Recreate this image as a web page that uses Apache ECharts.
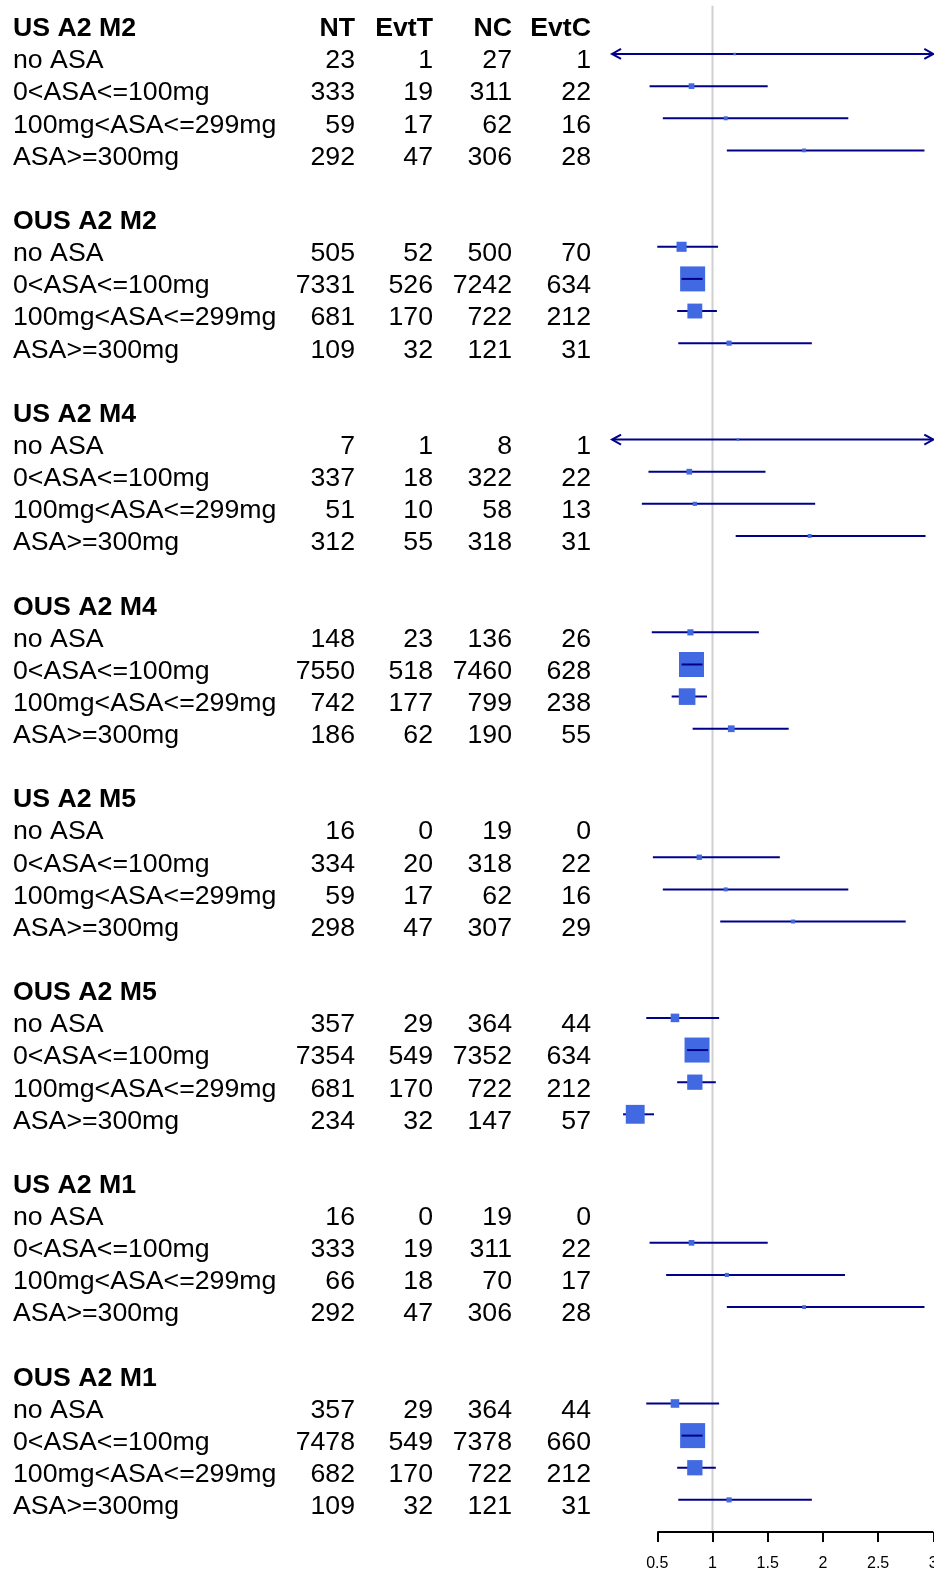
<!DOCTYPE html>
<html>
<head>
<meta charset="utf-8">
<script src="https://cdn.jsdelivr.net/npm/echarts@6/dist/echarts.min.js"></script>
<style>
html,body{margin:0;padding:0;background:#fff;}
#chart{width:934px;height:1575px;}
</style>
</head>
<body>
<div id="chart"></div>
<script>
// ---------------- data ----------------
const groups = ['US A2 M2','OUS A2 M2','US A2 M4','OUS A2 M4','US A2 M5','OUS A2 M5','US A2 M1','OUS A2 M1'];
const subgroups = ['no ASA','0<ASA<=100mg','100mg<ASA<=299mg','ASA>=300mg'];
const columns = ['NT','EvtT','NC','EvtC'];

const NT   = [[23,333,59,292],[505,7331,681,109],[7,337,51,312],[148,7550,742,186],[16,334,59,298],[357,7354,681,234],[16,333,66,292],[357,7478,682,109]];
const EvtT = [[1,19,17,47],[52,526,170,32],[1,18,10,55],[23,518,177,62],[0,20,17,47],[29,549,170,32],[0,19,18,47],[29,549,170,32]];
const NC   = [[27,311,62,306],[500,7242,722,121],[8,322,58,318],[136,7460,799,190],[19,318,62,307],[364,7352,722,147],[19,311,70,306],[364,7378,722,121]];
const EvtC = [[1,22,16,28],[70,634,212,31],[1,22,13,31],[26,628,238,55],[0,22,16,29],[44,634,212,57],[0,22,17,28],[44,660,212,31]];

// relative risk estimate, lower and upper CI (null = not estimable)
const estimate = [[1.20,0.81,1.12,1.83],[0.72,0.82,0.84,1.15],[1.23,0.79,0.84,1.88],[0.80,0.81,0.77,1.17],[null,0.88,1.12,1.73],[0.66,0.86,0.84,0.30],[null,0.81,1.13,1.83],[0.66,0.82,0.84,1.15]];
const lower    = [[0.02,0.43,0.55,1.13],[0.50,0.72,0.68,0.69],[0.02,0.42,0.36,1.21],[0.45,0.72,0.63,0.82],[null,0.46,0.55,1.07],[0.40,0.77,0.68,0.19],[null,0.43,0.58,1.13],[0.40,0.72,0.68,0.69]];
const upper    = [[40,1.50,2.23,2.92],[1.05,0.91,1.04,1.90],[40,1.48,1.93,2.93],[1.42,0.91,0.95,1.69],[null,1.61,2.23,2.75],[1.06,0.96,1.03,0.47],[null,1.50,2.20,2.92],[1.06,0.91,1.03,1.90]];

const xTicks = [0.5,1,1.5,2,2.5,3];
const clipRange = [0.09, 3];
const refValue = 1;

// ---------------- layout / style ----------------
const FONT = "'Liberation Sans', Arial, Helvetica, sans-serif";
const FS = 26.7;
const textDy = 7;
const colRight = [355, 433, 512, 591];
const labelLeft = 13;
const rowsPerGroup = subgroups.length + 2;
const nRows = groups.length * rowsPerGroup - 1;   // 47 rows (0..46)
const axisRow = nRows;                             // axis sits one row below last
const boxK = 5, boxMax = 25, boxMin = 2.5;
const lineColor = '#00008B', boxColor = '#4169E1';

// table rows and forest rows
const tableData = [];
const forestData = [];
groups.forEach((g, gi) => {
  const base = gi * rowsPerGroup;
  tableData.push({value:[0, base], label:g, cells: gi === 0 ? columns : ['','','',''], header:true});
  subgroups.forEach((s, si) => {
    const r = base + 1 + si;
    tableData.push({value:[0, r], label:s, cells:[NT[gi][si], EvtT[gi][si], NC[gi][si], EvtC[gi][si]].map(String), header:false});
    if (estimate[gi][si] != null) {
      forestData.push([estimate[gi][si], lower[gi][si], upper[gi][si], r]);
    }
  });
});

function renderTable(params, api) {
  const d = tableData[params.dataIndex];
  const y = api.coord([0, d.value[1]])[1] + textDy;
  const weight = d.header ? 'bold' : 'normal';
  const children = [{
    type:'text',
    style:{text:d.label, x:api.coord([labelLeft, 0])[0], y:y, fill:'#000', fontSize:FS, fontFamily:FONT, fontWeight:weight, align:'left', verticalAlign:'middle'}
  }];
  d.cells.forEach((c, ci) => {
    if (c === '') return;
    children.push({
      type:'text',
      style:{text:c, x:api.coord([colRight[ci], 0])[0], y:y, fill:'#000', fontSize:FS, fontFamily:FONT, fontWeight:weight, align:'right', verticalAlign:'middle'}
    });
  });
  return {type:'group', children};
}

function renderForest(params, api) {
  const est = api.value(0), lo = api.value(1), hi = api.value(2), row = api.value(3);
  const y = api.coord([refValue, row])[1];
  const loC = Math.max(lo, clipRange[0]), hiC = Math.min(hi, clipRange[1]);
  const xL = api.coord([loC, row])[0], xH = api.coord([hiC, row])[0], xE = api.coord([est, row])[0];
  const size = Math.max(boxMin, Math.min(boxMax, boxK / (hi - lo) + 1));
  const ls = {stroke:lineColor, lineWidth:2, fill:null};
  const children = [];
  children.push({type:'line', shape:{x1:xL, y1:y, x2:xH, y2:y}, style:ls});
  if (lo < clipRange[0]) {
    children.push({type:'polyline', shape:{points:[[xL+9,y-5],[xL,y],[xL+9,y+5]]}, style:ls});
  }
  if (hi > clipRange[1]) {
    children.push({type:'polyline', shape:{points:[[xH-9,y-5],[xH,y],[xH-9,y+5]]}, style:ls});
  }
  children.push({type:'rect', shape:{x:xE-size/2, y:y-size/2, width:size, height:size}, style:{fill:boxColor}});
  if (xE - size/2 < xL && xE + size/2 > xH) {
    children.push({type:'line', shape:{x1:xL, y1:y, x2:xH, y2:y}, style:ls});
  }
  return {type:'group', children};
}

const chart = echarts.init(document.getElementById('chart'), null, {renderer:'canvas'});
const yRange = {min:-0.5, max:axisRow};
chart.setOption({
  animation:false,
  backgroundColor:'#fff',
  grid:[
    {left:0, top:5.8, width:600, bottom:43, outerBoundsMode:'none', containLabel:false},
    {left:602.1, top:5.8, right:0.7, bottom:43, outerBoundsMode:'none', containLabel:false}
  ],
  xAxis:[
    {gridIndex:0, type:'value', min:0, max:600, show:false},
    {gridIndex:1, type:'value', min:0, max:3, position:'bottom',
     axisLine:{show:false, onZero:false},
     splitLine:{show:false},
     axisTick:{show:true, customValues:xTicks, length:10, lineStyle:{color:'#000', width:2}},
     axisLabel:{customValues:xTicks, color:'#000', fontSize:16, fontFamily:FONT, margin:24, hideOverlap:false}
    }
  ],
  yAxis:[
    {gridIndex:0, type:'value', inverse:true, min:yRange.min, max:yRange.max, show:false},
    {gridIndex:1, type:'value', inverse:true, min:yRange.min, max:yRange.max, show:false}
  ],
  series:[
    {type:'custom', xAxisIndex:0, yAxisIndex:0, renderItem:renderTable, data:tableData.map(d=>d.value), clip:false, silent:true},
    {type:'line', xAxisIndex:1, yAxisIndex:1, data:[[refValue, yRange.min],[refValue, axisRow]], symbol:'none',
     lineStyle:{color:'#d0d0d0', width:2}, clip:false, silent:true, z:1},
    {type:'line', xAxisIndex:1, yAxisIndex:1, data:[[xTicks[0], axisRow],[xTicks[xTicks.length-1], axisRow]], symbol:'none',
     lineStyle:{color:'#000', width:2}, clip:false, silent:true, z:3},
    {type:'custom', xAxisIndex:1, yAxisIndex:1, renderItem:renderForest, data:forestData, clip:false, silent:true, z:2}
  ]
});
</script>
</body>
</html>
